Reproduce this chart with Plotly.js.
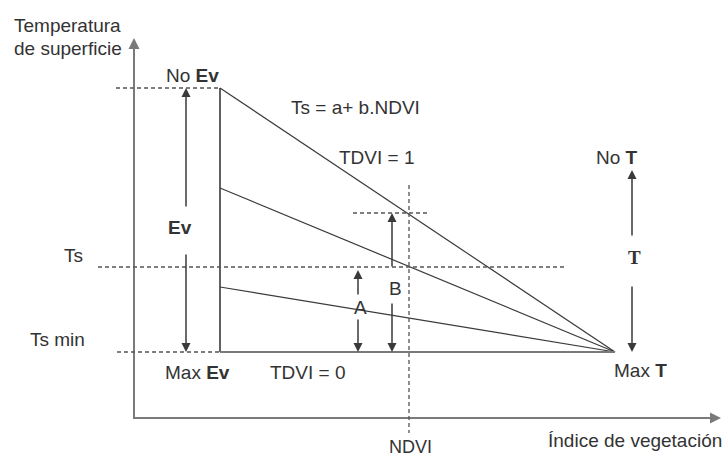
<!DOCTYPE html>
<html><head><meta charset="utf-8">
<script src="https://cdn.plot.ly/plotly-3.0.1.min.js"></script>
<style>html,body{margin:0;padding:0;background:#fff}#chart{width:727px;height:460px}</style>
</head><body><div id="chart"></div>
<script>
// Diagram coordinates (x: NDVI direction, y: temperature direction, screen-like units)
const xEdge = [220, 220];          // NDVI min boundary (vertical solid)
const yEdge = [88, 352];
const xRay = [220, 615];           // lines converging at Max T
const yNoEvLine = [88, 352];       // Ts = a + b.NDVI (TDVI = 1)
const yMidLine = [188, 352];
const yLowLine = [287, 352];
const xBase = [220, 615];          // TDVI = 0
const yBase = [352, 352];

const xYAxis = [134, 134], yYAxis = [418, 44];
const xXAxis = [133, 714], yXAxis = [418, 418];

const dashedX = [[116, 220], [98, 567], [117, 220], [353, 428], [409, 409]];
const dashedY = [[88, 88], [267, 267], [352, 352], [213, 213], [185, 433]];

// arrows: [xHead, yHead, xTail, yTail]
const arrows = [
  [186, 88, 186, 208], [186, 352, 186, 253],
  [358, 270, 358, 296], [358, 352, 358, 318],
  [392, 213, 392, 268], [392, 352, 392, 302],
  [632, 170, 632, 237], [632, 352, 632, 285],
  [134, 38, 134, 60], [721, 418, 700, 418]
];

const labels = [
  ["Temperatura", 12, 25, "left", "sans", 19],
  ["de superficie", 12, 48, "left", "sans", 19],
  ["No <b>Ev</b>", 192, 75, "center", "sans", 19],
  ["Ts = a+ b.NDVI", 355, 107, "center", "sans", 19],
  ["TDVI = 1", 377, 157, "center", "sans", 19],
  ["<b>Ev</b>", 180, 227, "center", "sans", 19],
  ["Ts", 73, 255, "center", "sans", 19],
  ["Ts min", 57, 339, "center", "sans", 19],
  ["Max <b>Ev</b>", 197, 372, "center", "sans", 19],
  ["TDVI = 0", 308, 372, "center", "sans", 19],
  ["A", 360, 307, "center", "sans", 19],
  ["B", 395, 288, "center", "sans", 19],
  ["No <b>T</b>", 617, 157, "center", "sans", 19],
  ["<b>T</b>", 634, 257, "center", "serif", 19],
  ["Max <b>T</b>", 640, 370, "center", "sans", 19],
  ["NDVI", 410, 447, "center", "sans", 18],
  ["Índice de vegetación", 635, 440, "center", "sans", 19]
];

const dark = "#3a3a3a", gray = "#7a7a7a", txt = "#333333";
const traces = [];
function line(x, y, color, w, dash) {
  traces.push({x: x, y: y, mode: "lines", type: "scatter", hoverinfo: "skip",
    line: {color: color, width: w, dash: dash || "solid"}, showlegend: false});
}
line(xYAxis, yYAxis, gray, 2);
line(xXAxis, yXAxis, gray, 2);
line(xEdge, yEdge, dark, 1.6);
line(xRay, yNoEvLine, dark, 1.2);
line(xRay, yMidLine, dark, 1.2);
line(xRay, yLowLine, dark, 1.2);
line(xBase, yBase, gray, 2);
for (let i = 0; i < dashedX.length; i++) line(dashedX[i], dashedY[i], "#555", 1.3, "4px,3px");

const ann = [];
arrows.forEach(function (a, i) {
  const isAxis = i >= 8;
  ann.push({x: a[0], y: a[1], ax: a[2], ay: a[3], xref: "x", yref: "y", axref: "x", ayref: "y",
    text: "", showarrow: true, arrowhead: 2, arrowsize: isAxis ? 1.1 : 1.2,
    arrowwidth: isAxis ? 2 : 1.5, arrowcolor: isAxis ? gray : dark});
});
labels.forEach(function (l) {
  ann.push({text: l[0], x: l[1], y: l[2], xref: "x", yref: "y", showarrow: false,
    xanchor: l[3], yanchor: "middle",
    font: {family: l[4] === "serif" ? "Liberation Serif, serif" : "Liberation Sans, Arial, sans-serif",
      size: l[5], color: txt}});
});

Plotly.newPlot("chart", traces, {
  width: 727, height: 460, margin: {l: 0, r: 0, t: 0, b: 0},
  paper_bgcolor: "#fff", plot_bgcolor: "#fff",
  xaxis: {range: [0, 727], visible: false, fixedrange: true},
  yaxis: {range: [460, 0], visible: false, fixedrange: true},
  annotations: ann, showlegend: false
}, {staticPlot: true});
</script></body></html>
